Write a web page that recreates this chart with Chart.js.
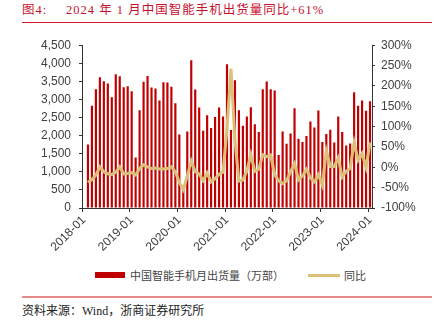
<!DOCTYPE html>
<html>
<head>
<meta charset="utf-8">
<script src="https://cdn.jsdelivr.net/npm/chart.js@4.4.1/dist/chart.umd.min.js"></script>
<style>
  body { margin: 0; width: 436px; height: 329px; background: #fff; position: relative; overflow: hidden; font-family: "Liberation Serif", "Noto Sans CJK SC", serif; }
  .title { position: absolute; top: 3px; font-size: 12.5px; line-height: 14px; letter-spacing: 1px; color: #c8102e; white-space: pre; }
  .rule { position: absolute; left: 22px; width: 410px; }
  #top-rule { top: 22px; height: 1px; background: #d0202a; }
  #bottom-rule { top: 296px; height: 1.5px; background: #e58a8a; }
  #wrap { position: absolute; left: 0; top: 30px; width: 436px; height: 235px; }
  #legend { position: absolute; top: 268px; left: 0; width: 436px; height: 14px; font-family: "Noto Sans CJK SC", sans-serif; font-size: 11px; color: #444; }
  .sw { position: absolute; }
  .lt { position: absolute; top: 0; line-height: 14px; }
  #source { position: absolute; left: 22px; top: 303px; font-size: 12px; line-height: 16px; color: #222; white-space: pre; }
</style>
</head>
<body>
<div class="title" style="left:22px">图4:</div>
<div class="title" style="left:66px">2024 年 1 月中国智能手机出货量同比+61%</div>
<div id="top-rule" class="rule"></div>
<div id="wrap"><canvas id="chart" width="436" height="235"></canvas></div>
<div id="legend">
  <div class="sw" style="left:95px;top:4px;width:30px;height:6px;background:#c00000"></div>
  <div class="lt" style="left:130px">中国智能手机月出货量（万部）</div>
  <div class="sw" style="left:308px;top:6px;width:32px;height:3px;background:#dcc07a"></div>
  <div class="lt" style="left:344px">同比</div>
</div>
<div id="bottom-rule" class="rule"></div>
<div id="source">资料来源：Wind，浙商证券研究所</div>
<script>
const years = ["2018", "2019", "2020", "2021", "2022", "2023", "2024"];

// 中国智能手机月出货量（万部）
const ship2018 = [null, 1757, 2824, 3284, 3616, 3505, 3440, 3064, 3698, 3643, 3340, 3367];
const ship2019 = [3229, 1398, 2705, 3487, 3652, 3330, 3303, 2972, 3478, 3468, 3349, 2898];
const ship2020 = [2033, 614, 2116, 4085, 3275, 2778, 2134, 2567, 2208, 2512, 2778, 2530];
const ship2021 = [3974, 2153, 3533, 2705, 2272, 2530, 2788, 2318, 2098, 3284, 3496, 3284];
const ship2022 = [3248, 1463, 2116, 1776, 2061, 2760, 1914, 1822, 1987, 2392, 2226, 2696];
const ship2023 = [1822, 2042, 2162, 1812, 2530, 2098, 1730, 1785, 3202, 2824, 2972, 2686];
const ship2024 = [2953];

// 同比 (%)
const yoy2018 = [null, -37, -30, -19, 1, -11, -16, -18, -12, 1, -16, -15];
const yoy2019 = [-13, -19, -3, 6, 1, -3, -2, -4, -4, -3, 1, -11];
const yoy2020 = [-37, -55, -21, 15, -11, -16, -33, -14, -36, -28, -17, -12];
const yoy2021 = [95, 242, 67, -34, -31, -9, 31, -10, -5, 31, 26, 30];
const yoy2022 = [-18, -33, -40, -33, -10, 9, -31, -21, -5, -26, -36, -18];
const yoy2023 = [-44, 40, 2, 2, 23, -24, -10, -3, 61, 18, 34, 0];
const yoy2024 = [61];

const ship = [].concat(ship2018, ship2019, ship2020, ship2021, ship2022, ship2023, ship2024);
const yoy = [].concat(yoy2018, yoy2019, yoy2020, yoy2021, yoy2022, yoy2023, yoy2024);

const labels = [];
years.forEach((y) => {
  const n = y === "2024" ? 1 : 12;
  for (let m = 1; m <= n; m++) labels.push(`${y}-${String(m).padStart(2, "0")}`);
});

const isJan = (i) => labels[i] !== undefined && labels[i].endsWith("-01");
const axisFont = { family: "Liberation Sans", size: 12 };
const axisColor = "#404040";

new Chart(document.getElementById("chart"), {
  type: "bar",
  data: {
    labels,
    datasets: [
      { type: "line", label: "同比", data: yoy, yAxisID: "y1", borderColor: "#dcc07a", borderWidth: 3, pointRadius: 0, tension: 0, order: 0 },
      { type: "bar", label: "中国智能手机月出货量（万部）", data: ship, yAxisID: "y", backgroundColor: "#c00000", barPercentage: 0.55, categoryPercentage: 1, order: 1 }
    ]
  },
  options: {
    responsive: false,
    animation: false,
    layout: { padding: { top: 15, left: 0, right: 0, bottom: 0 } },
    plugins: { legend: { display: false }, tooltip: { enabled: false } },
    scales: {
      x: {
        grid: { offset: true, drawOnChartArea: false, tickLength: 4, color: (ctx) => isJan(ctx.index) ? "#333" : "transparent" },
        border: { color: "#333" },
        ticks: { autoSkip: false, maxRotation: 45, minRotation: 45, padding: 1, font: axisFont, color: axisColor,
          callback: (v, i) => isJan(i) ? labels[i] : "" },
        afterFit: (s) => { s.height = 57; }
      },
      y: {
        position: "left", min: 0, max: 4500,
        grid: { drawOnChartArea: false, tickLength: 3, color: "#333" },
        border: { color: "#333" },
        ticks: { stepSize: 500, padding: 8, font: axisFont, color: axisColor, callback: (v) => v.toLocaleString("en-US") },
        afterFit: (s) => { s.width = 82; }
      },
      y1: {
        position: "right", min: -100, max: 300,
        grid: { drawOnChartArea: false, tickLength: 3, color: "#333" },
        border: { color: "#333" },
        ticks: { stepSize: 50, padding: 6, font: axisFont, color: axisColor, callback: (v) => `${v}%` },
        afterFit: (s) => { s.width = 64; }
      }
    }
  }
});
</script>
</body>
</html>
